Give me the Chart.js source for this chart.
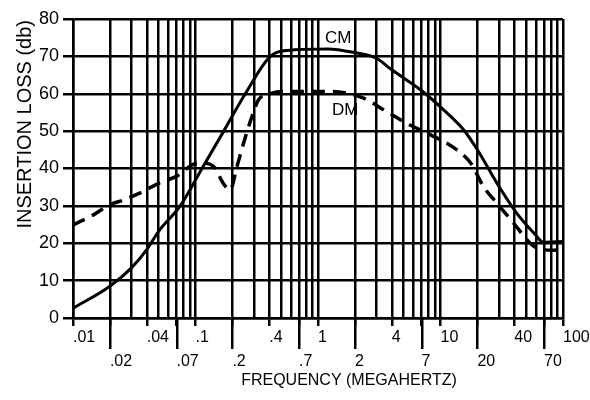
<!DOCTYPE html>
<html><head><meta charset="utf-8">
<script src="https://cdn.jsdelivr.net/npm/chart.js@4.4.1/dist/chart.umd.min.js"></script>
<style>html,body{margin:0;padding:0;background:#fff}#wrap{width:590px;height:400px;position:relative}</style>
</head><body><div id="wrap"><canvas id="c"></canvas></div>
<script>
// ---- data (MHz, dB) ----
const cmFreq = [0.01, 0.02, 0.03, 0.04, 0.05, 0.075, 0.113, 0.17, 0.255, 0.408, 0.56, 1.2, 2, 3, 4, 6.9, 10.6, 15.5, 20, 29, 42, 58, 69, 100];
const cmLoss = [2.6, 8.5, 13.4, 18.3, 23.2, 30, 40, 50, 60, 70, 71.6, 72, 71, 69.5, 66.4, 61, 55.7, 50.3, 45, 36, 28, 22.7, 20.3, 20.5];
const dmFreq = [0.01, 0.0147, 0.02, 0.026, 0.035, 0.052, 0.07, 0.1, 0.117, 0.145, 0.165, 0.192, 0.218, 0.247, 0.289, 0.327, 0.38, 0.52, 0.92, 1.26, 2.36, 3.43, 5.3, 8.3, 12.4, 17.7, 22.4, 28.9, 39.5, 54, 61, 84, 100];
const dmLoss = [24.9, 27.6, 30.3, 31.6, 33.4, 36.3, 37.9, 41.3, 41.4, 40.1, 36.5, 34.3, 40.5, 46.8, 53.9, 58.4, 59.7, 60.6, 60.6, 60.6, 58.8, 55.7, 52.1, 49, 45.9, 41.4, 35.2, 30.7, 25.4, 20, 18.7, 18.1, 18.7];
const seriesNames = ['CM', 'DM'];
const seriesLabelFreq = [1.46, 1.67];
const seriesLabelLoss = [74.8, 55.5];

// ---- axes ----
const gridFreqs = [0.01,0.02,0.03,0.04,0.05,0.06,0.07,0.08,0.09,
                   0.1,0.2,0.3,0.4,0.5,0.6,0.7,0.8,0.9,
                   1,2,3,4,5,6,7,8,9,
                   10,20,30,40,50,60,70,80,90,100];
const topTickValues = [0.01, 0.04, 0.1, 0.4, 1, 4, 10, 40, 100];
const topTickLabels = ['.01', '.04', '.1', '.4', '1', '4', '10', '40', '100'];
const bottomTickValues = [0.02, 0.07, 0.2, 0.7, 2, 7, 20, 70];
const bottomTickLabels = ['.02', '.07', '.2', '.7', '2', '7', '20', '70'];
const yMin = 0, yMax = 80, yStep = 10;
const xTitle = 'FREQUENCY (MEGAHERTZ)';
const yTitle = 'INSERTION LOSS (db)';

const FONT = '"Liberation Sans", Arial, sans-serif';
const near = (a, b) => Math.abs(Math.log10(a) - Math.log10(b)) < 1e-6;
const findIdx = (arr, v) => arr.findIndex(a => near(a, v));

const extras = {
  id: 'extras',
  afterDraw(chart) {
    const ctx = chart.ctx, xs = chart.scales.x, ys = chart.scales.y, ca = chart.chartArea;
    ctx.save();
    ctx.strokeStyle = '#000'; ctx.lineWidth = 2.5; ctx.lineCap = 'butt';
    bottomTickValues.forEach(v => {
      const px = Math.round(xs.getPixelForValue(v)) + 0.25;
      ctx.beginPath(); ctx.moveTo(px, ca.bottom); ctx.lineTo(px, ca.bottom + 31); ctx.stroke();
    });
    ctx.fillStyle = '#000';
    ctx.font = '16px ' + FONT; ctx.textAlign = 'center'; ctx.textBaseline = 'middle';
    ctx.fillText(xTitle, (ca.left + ca.right) / 2 + 31, ca.bottom + 63);
    ctx.save();
    ctx.translate(25, ca.top + 1); ctx.rotate(-Math.PI / 2);
    ctx.font = '20px ' + FONT; ctx.textAlign = 'right'; ctx.textBaseline = 'middle';
    ctx.fillText(yTitle, 0, 0);
    ctx.restore();
    ctx.font = '17px ' + FONT; ctx.textAlign = 'center'; ctx.textBaseline = 'middle';
    seriesNames.forEach((n, i) => {
      ctx.fillText(n, xs.getPixelForValue(seriesLabelFreq[i]), ys.getPixelForValue(seriesLabelLoss[i]));
    });
    ctx.restore();
  }
};

new Chart(document.getElementById('c'), {
  type: 'line',
  data: {
    datasets: [
      { label: seriesNames[0], data: cmFreq.map((f, i) => ({ x: f, y: cmLoss[i] })),
        borderColor: '#000', borderWidth: 3, pointRadius: 0, cubicInterpolationMode: 'monotone', fill: false },
      { label: seriesNames[1], data: dmFreq.map((f, i) => ({ x: f, y: dmLoss[i] })),
        borderColor: '#000', borderWidth: 3.5, borderDash: [13, 8], borderCapStyle: 'butt',
        pointRadius: 0, cubicInterpolationMode: 'monotone', fill: false }
    ]
  },
  options: {
    responsive: true, maintainAspectRatio: false, animation: false,
    devicePixelRatio: 1,
    layout: { padding: { left: 0, top: 19, right: 27, bottom: 0 } },
    plugins: { legend: { display: false }, tooltip: { enabled: false }, title: { display: false } },
    scales: {
      x: {
        type: 'logarithmic', min: 0.01, max: 100,
        afterBuildTicks: s => { s.ticks = gridFreqs.map(v => ({ value: v })); },
        afterFit: s => { s.height = 82; s.paddingLeft = 0; s.paddingRight = 0; },
        ticks: {
          autoSkip: false, maxRotation: 0, minRotation: 0, align: 'start', padding: 0,
          color: '#000', font: { family: FONT, size: 16, lineHeight: 1.5 },
          callback: v => {
            let i = findIdx(topTickValues, v);
            if (i >= 0) return topTickLabels[i];
            i = findIdx(bottomTickValues, v);
            if (i >= 0) return ['', bottomTickLabels[i]];
            return '';
          }
        },
        grid: {
          color: '#000', lineWidth: 2.5, drawTicks: true, tickLength: 8, tickWidth: 2.5,
          tickColor: c => (c.tick && (findIdx(topTickValues, c.tick.value) >= 0 || findIdx(bottomTickValues, c.tick.value) >= 0)) ? '#000' : 'rgba(0,0,0,0)'
        },
        border: { display: true, color: '#000', width: 2.5 }
      },
      y: {
        min: yMin, max: yMax,
        afterFit: s => { s.width = 73; s.paddingTop = 0; s.paddingBottom = 0; },
        ticks: { stepSize: yStep, padding: 4, color: '#000', font: { family: FONT, size: 18 } },
        grid: { color: '#000', lineWidth: 2.5, tickLength: 10, tickWidth: 2.5 },
        border: { display: true, color: '#000', width: 2.5 }
      }
    }
  },
  plugins: [extras]
});
</script></body></html>
